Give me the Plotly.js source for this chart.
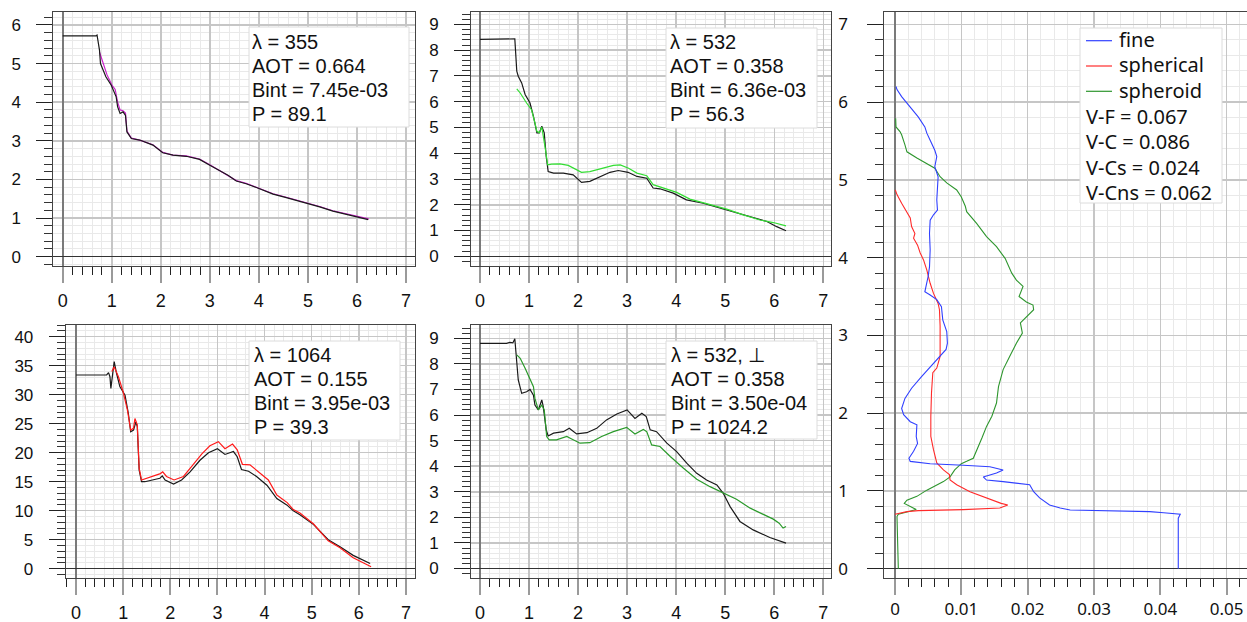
<!DOCTYPE html>
<html>
<head>
<meta charset="utf-8">
<script src="https://cdn.plot.ly/plotly-3.0.1.min.js"></script>
<style>html,body{margin:0;padding:0;background:#fff;}#chart{width:1247px;height:622px;}</style>
</head>
<body>
<div id="chart"></div>
<script>
// ---------------- DATA ----------------
// Panel 1 (top-left): lambda = 355
const tl_black_x = [0, 0.68, 0.70, 0.75, 0.77, 0.88, 0.99, 1.09, 1.12, 1.17, 1.23, 1.28, 1.31, 1.40, 1.57, 1.84, 2.04, 2.25, 2.52, 2.79, 3.0, 3.2, 3.37, 3.54, 3.74, 3.95, 4.29, 4.56, 4.97, 5.24, 5.51, 5.79, 5.99, 6.23];
const tl_black_y = [5.72, 5.72, 5.74, 5.35, 5.0, 4.66, 4.44, 4.14, 3.88, 3.71, 3.75, 3.66, 3.23, 3.06, 3.02, 2.89, 2.69, 2.63, 2.60, 2.52, 2.37, 2.22, 2.11, 1.96, 1.89, 1.79, 1.62, 1.53, 1.39, 1.29, 1.18, 1.10, 1.03, 0.96];
const tl_fit_x = [0.75, 0.82, 0.90, 1.0, 1.07, 1.12, 1.17, 1.23, 1.28, 1.31, 1.40, 1.57, 1.84, 2.04, 2.25, 2.52, 2.79, 3.0, 3.2, 3.37, 3.54, 3.74, 3.95, 4.29, 4.56, 4.97, 5.24, 5.51, 5.79, 5.99, 6.24];
const tl_fit_y = [5.30, 5.00, 4.72, 4.45, 4.33, 4.0, 3.80, 3.78, 3.72, 3.25, 3.07, 3.02, 2.90, 2.70, 2.63, 2.61, 2.53, 2.38, 2.23, 2.12, 1.97, 1.90, 1.80, 1.63, 1.54, 1.40, 1.30, 1.19, 1.12, 1.05, 0.98];

// Panel 2 (top-middle): lambda = 532
const tm_black_x = [0, 0.69, 0.71, 0.75, 0.78, 0.85, 0.92, 1.02, 1.09, 1.16, 1.21, 1.26, 1.31, 1.35, 1.39, 1.50, 1.70, 1.90, 2.07, 2.24, 2.45, 2.65, 2.82, 3.02, 3.20, 3.40, 3.53, 3.67, 3.94, 4.21, 4.55, 4.89, 5.23, 5.57, 5.85, 6.05, 6.24];
const tm_black_y = [8.42, 8.42, 8.44, 7.19, 6.99, 6.73, 6.28, 5.95, 5.43, 4.79, 4.79, 5.05, 4.79, 3.88, 3.29, 3.23, 3.23, 3.16, 2.87, 2.91, 3.10, 3.26, 3.33, 3.26, 3.10, 3.03, 2.65, 2.62, 2.45, 2.19, 2.06, 1.87, 1.70, 1.48, 1.35, 1.15, 0.99];
const tm_fit_x = [0.75, 0.82, 0.95, 1.05, 1.12, 1.16, 1.21, 1.26, 1.33, 1.38, 1.46, 1.63, 1.80, 1.90, 2.07, 2.24, 2.48, 2.72, 2.86, 3.03, 3.20, 3.40, 3.53, 3.74, 4.01, 4.28, 4.62, 5.03, 5.37, 5.71, 5.98, 6.24];
const tm_fit_y = [6.50, 6.34, 5.95, 5.69, 5.18, 4.85, 4.80, 5.02, 4.20, 3.55, 3.58, 3.59, 3.53, 3.42, 3.26, 3.29, 3.42, 3.53, 3.55, 3.42, 3.23, 3.13, 2.78, 2.65, 2.48, 2.22, 2.04, 1.83, 1.61, 1.41, 1.31, 1.18];

// Panel 3 (bottom-left): lambda = 1064
const bl_black_x = [0, 0.65, 0.69, 0.72, 0.74, 0.78, 0.81, 0.86, 0.93, 1.04, 1.11, 1.16, 1.22, 1.27, 1.30, 1.34, 1.39, 1.46, 1.61, 1.78, 1.83, 1.89, 2.07, 2.24, 2.42, 2.63, 2.81, 3.0, 3.16, 3.34, 3.42, 3.51, 3.66, 3.83, 4.05, 4.26, 4.47, 4.61, 4.75, 5.04, 5.35, 5.60, 5.88, 6.24];
const bl_black_y = [33.4, 33.4, 33.8, 33.1, 31.1, 34.3, 35.7, 33.7, 31.4, 29.9, 26.8, 23.6, 23.9, 25.3, 24.5, 17.0, 15.0, 15.0, 15.3, 15.6, 16.0, 15.3, 14.6, 15.3, 16.7, 18.7, 20.0, 20.7, 19.7, 20.2, 19.3, 17.1, 16.8, 15.9, 14.4, 12.1, 11.0, 10.0, 9.3, 7.6, 5.0, 3.8, 2.3, 0.9];
const bl_fit_x = [0.76, 0.81, 0.90, 1.0, 1.09, 1.16, 1.22, 1.25, 1.30, 1.34, 1.39, 1.50, 1.64, 1.79, 1.84, 1.92, 2.08, 2.28, 2.45, 2.67, 2.84, 3.02, 3.16, 3.32, 3.42, 3.53, 3.69, 3.87, 4.08, 4.26, 4.48, 4.61, 4.75, 5.04, 5.35, 5.60, 5.88, 6.26];
const bl_fit_y = [34.0, 34.8, 33.1, 30.5, 27.4, 23.9, 24.2, 25.9, 24.8, 17.3, 15.3, 15.6, 16.0, 16.4, 16.7, 15.9, 15.3, 15.9, 17.6, 19.8, 21.2, 21.9, 20.7, 21.5, 20.5, 18.0, 17.9, 16.7, 15.3, 12.7, 11.4, 10.2, 9.6, 7.7, 4.8, 3.6, 1.9, 0.35];

// Panel 4 (bottom-middle): lambda = 532, perpendicular
const bm_black_x = [0, 0.54, 0.61, 0.67, 0.71, 0.75, 0.78, 0.85, 0.95, 1.02, 1.09, 1.12, 1.19, 1.26, 1.29, 1.35, 1.39, 1.50, 1.70, 1.82, 1.97, 2.18, 2.38, 2.58, 2.79, 3.0, 3.16, 3.30, 3.39, 3.47, 3.60, 3.81, 4.01, 4.22, 4.42, 4.62, 4.83, 4.96, 5.10, 5.30, 5.57, 5.91, 6.24];
const bm_black_y = [8.80, 8.80, 8.84, 8.82, 8.98, 8.15, 7.37, 6.85, 6.91, 7.00, 6.78, 6.39, 6.20, 6.59, 6.33, 5.42, 5.18, 5.29, 5.35, 5.48, 5.26, 5.31, 5.48, 5.81, 6.04, 6.20, 5.87, 6.07, 5.94, 5.42, 5.35, 4.90, 4.57, 4.11, 3.72, 3.46, 3.27, 2.94, 2.42, 1.84, 1.51, 1.21, 0.99];
const bm_fit_x = [0.75, 0.82, 0.92, 1.02, 1.09, 1.12, 1.19, 1.26, 1.31, 1.36, 1.41, 1.56, 1.77, 1.84, 2.04, 2.24, 2.48, 2.72, 2.99, 3.16, 3.33, 3.40, 3.50, 3.67, 3.88, 4.15, 4.42, 4.69, 4.96, 5.23, 5.51, 5.78, 5.98, 6.10, 6.18, 6.24];
const bm_fit_y = [8.35, 8.22, 7.83, 7.44, 7.11, 6.65, 6.20, 6.39, 6.20, 5.16, 5.03, 5.03, 5.16, 5.09, 4.90, 4.92, 5.16, 5.35, 5.52, 5.26, 5.44, 5.35, 4.83, 4.77, 4.38, 3.92, 3.49, 3.20, 2.94, 2.71, 2.36, 2.10, 1.93, 1.77, 1.58, 1.64];

// Panel 5 (right): concentration profiles (x = value, y = height)
const fine_x = [0.00015, 0.0003, 0.001, 0.0023, 0.0035, 0.0045, 0.0048, 0.0053, 0.006, 0.0063, 0.006, 0.0065, 0.0064, 0.0063, 0.0064, 0.0058, 0.0053, 0.0052, 0.0053, 0.0052, 0.005, 0.0048, 0.0045, 0.0053, 0.0063, 0.007, 0.0072, 0.0078, 0.0079, 0.0077, 0.0065, 0.0053, 0.004, 0.0025, 0.0015, 0.001, 0.0013, 0.0023, 0.0033, 0.0032, 0.0034, 0.0028, 0.0021, 0.0023, 0.0053, 0.0103, 0.0143, 0.0163, 0.0153, 0.0133, 0.0138, 0.0163, 0.0188, 0.0203, 0.0209, 0.0218, 0.0233, 0.0249, 0.0264, 0.0304, 0.0344, 0.0384, 0.0405, 0.043, 0.0427, 0.0427];
const fine_y = [6.2, 6.16, 6.07, 5.94, 5.81, 5.68, 5.6, 5.51, 5.38, 5.3, 5.17, 5.04, 4.91, 4.74, 4.61, 4.55, 4.48, 4.31, 4.10, 3.88, 3.76, 3.67, 3.56, 3.52, 3.46, 3.37, 3.2, 3.05, 2.9, 2.82, 2.71, 2.6, 2.47, 2.32, 2.19, 2.06, 1.98, 1.89, 1.85, 1.70, 1.61, 1.51, 1.42, 1.38, 1.35, 1.33, 1.31, 1.27, 1.23, 1.18, 1.14, 1.12, 1.10, 1.08, 0.99, 0.91, 0.82, 0.78, 0.755, 0.747, 0.742, 0.734, 0.72, 0.70, 0.65, 0];
const spherical_x = [0.00005, 0.0003, 0.001, 0.0018, 0.0023, 0.0025, 0.003, 0.0028, 0.0034, 0.0038, 0.0043, 0.0048, 0.0051, 0.0053, 0.0058, 0.0065, 0.0067, 0.0068, 0.0068, 0.0063, 0.0057, 0.0055, 0.0054, 0.0054, 0.0058, 0.0063, 0.0073, 0.0082, 0.0083, 0.0093, 0.0113, 0.0138, 0.016, 0.017, 0.0158, 0.0103, 0.0053, 0.0035, 0.0018, 0.0003, 0];
const spherical_y = [4.87, 4.81, 4.70, 4.59, 4.51, 4.40, 4.31, 4.25, 4.16, 4.06, 3.97, 3.84, 3.73, 3.67, 3.54, 3.41, 3.33, 3.12, 2.73, 2.58, 2.52, 2.26, 1.96, 1.70, 1.53, 1.36, 1.27, 1.21, 1.14, 1.08, 0.99, 0.91, 0.84, 0.82, 0.78, 0.76, 0.755, 0.747, 0.734, 0.71, 0.70];
const spheroid_x = [0.0001, 0.00015, 0.00075, 0.001, 0.0015, 0.0018, 0.0033, 0.0048, 0.006, 0.0068, 0.0078, 0.0093, 0.01, 0.0106, 0.0108, 0.0123, 0.0138, 0.0153, 0.0166, 0.0176, 0.0183, 0.0193, 0.0187, 0.0198, 0.0208, 0.0209, 0.0198, 0.0189, 0.0192, 0.0183, 0.0173, 0.0163, 0.0156, 0.0153, 0.0146, 0.0138, 0.0131, 0.0123, 0.0118, 0.0108, 0.01, 0.009, 0.0083, 0.0073, 0.0063, 0.0048, 0.0033, 0.0018, 0.0014, 0.0023, 0.0032, 0.0018, 0.0005, 0.0003, 0.0004, 0.0005];
const spheroid_y = [5.79, 5.68, 5.62, 5.58, 5.45, 5.36, 5.28, 5.21, 5.15, 5.04, 4.96, 4.87, 4.78, 4.66, 4.59, 4.44, 4.27, 4.14, 3.99, 3.80, 3.71, 3.63, 3.50, 3.43, 3.39, 3.33, 3.24, 3.16, 3.03, 2.90, 2.73, 2.56, 2.34, 2.13, 1.96, 1.83, 1.68, 1.53, 1.42, 1.38, 1.35, 1.27, 1.18, 1.12, 1.08, 1.01, 0.93, 0.88, 0.84, 0.80, 0.76, 0.73, 0.70, 0.67, 0.41, 0];

// Texts
const tl_lines = ['λ = 355', 'AOT = 0.664', 'Bint = 7.45e-03', 'P = 89.1'];
const tm_lines = ['λ = 532', 'AOT = 0.358', 'Bint = 6.36e-03', 'P = 56.3'];
const bl_lines = ['λ = 1064', 'AOT = 0.155', 'Bint = 3.95e-03', 'P = 39.3'];
const bm_lines = ['λ = 532, ⊥', 'AOT = 0.358', 'Bint = 3.50e-04', 'P = 1024.2'];
const legend_labels = ['fine', 'spherical', 'spheroid'];
const stat_lines = ['V-F = 0.067', 'V-C = 0.086', 'V-Cs = 0.024', 'V-Cns = 0.062'];

// ---------------- LAYOUT ----------------
const W = 1247, H = 622;
const px = v => v / W;
const py = v => 1 - v / H;

const TICKFONT = 'Liberation Sans, Arial, sans-serif';
const RFONT = 'Noto Sans, DejaVu Sans, sans-serif';

function xaxis(l, r, range, dtick, mdtick, anchor, font, size, standoff) {
  return {
    domain: [px(l), px(r)], range: range, anchor: anchor,
    tick0: 0, dtick: dtick, ticks: 'outside', ticklen: 16, tickwidth: 2, tickcolor: '#9a9a9a',
    ticklabelstandoff: standoff,
    showgrid: true, gridcolor: '#c6c6c6', gridwidth: 1.5,
    zeroline: true, zerolinecolor: '#7a7a7a', zerolinewidth: 2,
    showline: true, mirror: true, linecolor: '#444', linewidth: 1,
    minor: {dtick: mdtick, tick0: 0, ticks: 'outside', ticklen: 8, tickwidth: 1, tickcolor: '#222',
            showgrid: true, gridcolor: '#e9e9e9', gridwidth: 1},
    tickfont: {family: font, size: size, color: '#111'},
    fixedrange: true
  };
}
function yaxis(t, b, range, dtick, mdtick, anchor, font, mirror, standoff) {
  return {
    domain: [py(b), py(t)], range: range, anchor: anchor,
    tick0: 0, dtick: dtick, ticks: 'outside', ticklen: 16, tickwidth: 1, tickcolor: '#222',
    ticklabelstandoff: standoff,
    showgrid: true, gridcolor: '#c6c6c6', gridwidth: 1.5,
    zeroline: true, zerolinecolor: '#333', zerolinewidth: 1,
    showline: true, mirror: mirror, linecolor: '#444', linewidth: 1,
    minor: {dtick: mdtick, tick0: 0, ticks: 'outside', ticklen: 8, tickwidth: 1, tickcolor: '#333',
            showgrid: true, gridcolor: '#e9e9e9', gridwidth: 1},
    tickfont: {family: font, size: 17, color: '#111'},
    fixedrange: true
  };
}

function line(x, y, color, xa, ya, w) {
  return {x: x, y: y, type: 'scatter', mode: 'lines', xaxis: xa, yaxis: ya,
          line: {color: color, width: w || 1.2}, hoverinfo: 'skip'};
}

const traces = [
  line(tl_fit_x, tl_fit_y, '#cc22cc', 'x', 'y'),
  line(tl_black_x, tl_black_y, '#1a1a1a', 'x', 'y'),
  line(tm_black_x, tm_black_y, '#1a1a1a', 'x2', 'y2'),
  line(tm_fit_x, tm_fit_y, '#33dd33', 'x2', 'y2'),
  line(bl_black_x, bl_black_y, '#1a1a1a', 'x3', 'y3'),
  line(bl_fit_x, bl_fit_y, '#ff1a1a', 'x3', 'y3'),
  line(bm_black_x, bm_black_y, '#1a1a1a', 'x4', 'y4'),
  line(bm_fit_x, bm_fit_y, '#2b9a2b', 'x4', 'y4'),
  line(spheroid_x, spheroid_y, '#2e962e', 'x5', 'y5', 1.1),
  line(spherical_x, spherical_y, '#ff2a2a', 'x5', 'y5', 1.1),
  line(fine_x, fine_y, '#3040ff', 'x5', 'y5', 1.1)
];

const shapes = [];
const annotations = [];
function box(l, t, r, b) {
  shapes.push({type: 'rect', xref: 'paper', yref: 'paper', x0: px(l), x1: px(r), y0: py(b), y1: py(t),
               fillcolor: '#ffffff', line: {color: '#dcdcdc', width: 1}, layer: 'above'});
}
function txt(x, y, s, family, size) {
  annotations.push({xref: 'paper', yref: 'paper', x: px(x), y: py(y), text: s, showarrow: false,
                    xanchor: 'left', yanchor: 'middle', align: 'left', borderpad: 0,
                    font: {family: family, size: size, color: '#111'}});
}
const ANN = 'Liberation Sans, Arial, sans-serif';
const topRows = [42, 66, 90, 114];
const botRows = [355, 379, 403, 427];

box(249, 27, 409, 127);
tl_lines.forEach((s, i) => txt(251, topRows[i], s, ANN, 20));
box(666, 28, 817, 128);
tm_lines.forEach((s, i) => txt(669, topRows[i], s, ANN, 20));
box(249, 341, 400, 440);
bl_lines.forEach((s, i) => txt(253, botRows[i], s, ANN, 20));
box(666, 341, 817, 439);
bm_lines.forEach((s, i) => txt(670, botRows[i], s, ANN, 20));

box(1080, 28, 1222, 203);
const rRows = [40.7, 66, 91.3, 116.7, 142, 167.3, 192.6];
const legColors = ['#3040ff', '#ff2a2a', '#2e962e'];
legend_labels.forEach((s, i) => {
  shapes.push({type: 'line', xref: 'paper', yref: 'paper', x0: px(1086), x1: px(1112),
               y0: py(rRows[i]), y1: py(rRows[i]), line: {color: legColors[i], width: 1.2}, layer: 'above'});
  txt(1118, rRows[i] - 1, s, RFONT, 20);
});
stat_lines.forEach((s, i) => txt(1085, rRows[i + 3], s, RFONT, 20));

const layout = {
  width: W, height: H, margin: {l: 0, r: 0, t: 0, b: 0},
  paper_bgcolor: '#ffffff', plot_bgcolor: '#ffffff', showlegend: false,
  xaxis:  xaxis(53.3, 415, [-0.192, 7.184], 1, 0.2, 'y', TICKFONT, 18, 2),
  yaxis:  yaxis(12.3, 266, [-0.241, 6.328], 1, 0.2, 'x', TICKFONT, true, 12),
  xaxis2: xaxis(471, 830.5, [-0.1835, 7.147], 1, 0.2, 'y2', TICKFONT, 18, 2),
  yaxis2: yaxis(12.3, 266, [-0.377, 9.472], 1, 0.2, 'x2', TICKFONT, true, 12),
  xaxis3: xaxis(65.7, 415, [-0.2185, 7.191], 1, 0.2, 'y3', TICKFONT, 18, 2),
  yaxis3: yaxis(325, 578, [-1.603, 42.02], 5, 1, 'x3', TICKFONT, true, 12),
  xaxis4: xaxis(471, 830.5, [-0.1835, 7.147], 1, 0.2, 'y4', TICKFONT, 18, 2),
  yaxis4: yaxis(325, 578, [-0.371, 9.52], 1, 0.2, 'x4', TICKFONT, true, 12),
  xaxis5: xaxis(884.3, 1247, [-0.001613, 0.05306], 0.01, 0.002, 'y5', RFONT, 17, 0),
  yaxis5: yaxis(12.3, 578, [-0.1196, 7.154], 1, 0.2, 'x5', RFONT, false, 16),
  shapes: shapes, annotations: annotations
};

Plotly.newPlot('chart', traces, layout, {staticPlot: true, displayModeBar: false});
</script>
</body>
</html>
